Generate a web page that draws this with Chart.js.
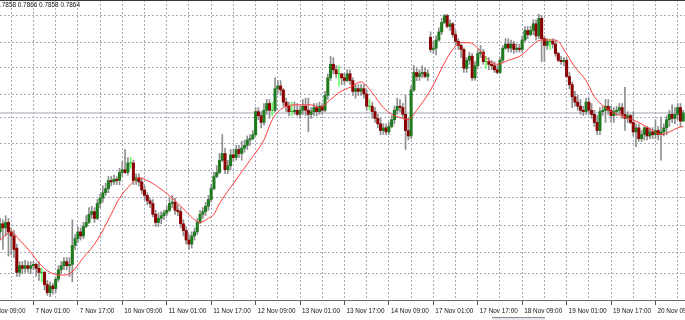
<!DOCTYPE html>
<html>
<head>
<meta charset="utf-8">
<script src="https://cdn.jsdelivr.net/npm/chart.js@4.4.1/dist/chart.umd.min.js"></script>
<style>
  html, body { margin: 0; padding: 0; background: #fff; }
  canvas { display: block; }
</style>
</head>
<body>
<canvas id="chart" width="685" height="320"></canvas>
<script>
// H1 candles, bar 0 = 6 Nov 09:00 (trading hours only)
const firstBar = 4;

const openPrices = [
  0.7776,0.7782,0.7779,0.7783,0.7776,0.7773,0.7764,0.7746,0.7751,0.7749,
  0.7751,0.7749,0.7751,0.7752,0.7749,0.7746,0.7746,0.7737,0.7731,0.7736,
  0.7734,0.7741,0.7748,0.7751,0.7754,0.7751,0.7752,0.7766,0.7771,0.7776,
  0.7773,0.7780,0.7783,0.7789,0.7791,0.7786,0.7797,0.7801,0.7805,0.7808,
  0.7814,0.7813,0.7815,0.7814,0.7820,0.7822,0.7820,0.7827,0.7827,0.7814,
  0.7816,0.7813,0.7807,0.7803,0.7799,0.7797,0.7789,0.7783,0.7786,0.7788,
  0.7790,0.7792,0.7797,0.7798,0.7792,0.7791,0.7782,0.7777,0.7770,0.7767,
  0.7773,0.7776,0.7783,0.7789,0.7791,0.7795,0.7800,0.7808,0.7817,0.7820,
  0.7829,0.7834,0.7822,0.7825,0.7833,0.7831,0.7837,0.7834,0.7838,0.7840,
  0.7844,0.7845,0.7848,0.7865,0.7862,0.7857,0.7866,0.7871,0.7866,0.7866,
  0.7882,0.7884,0.7881,0.7872,0.7869,0.7865,0.7865,0.7866,0.7863,0.7866,
  0.7869,0.7866,0.7863,0.7865,0.7868,0.7865,0.7869,0.7866,0.7877,0.7890,
  0.7900,0.7896,0.7893,0.7893,0.7890,0.7888,0.7893,0.7888,0.7880,0.7882,
  0.7880,0.7882,0.7878,0.7869,0.7869,0.7865,0.7860,0.7856,0.7851,0.7853,
  0.7850,0.7854,0.7859,0.7866,0.7869,0.7868,0.7863,0.7851,0.7847,0.7881,
  0.7894,0.7891,0.7893,0.7894,0.7891,0.7920,0.7911,0.7912,0.7918,0.7924,
  0.7931,0.7936,0.7928,0.7930,0.7922,0.7917,0.7914,0.7911,0.7897,0.7903,
  0.7906,0.7890,0.7899,0.7908,0.7909,0.7902,0.7902,0.7900,0.7899,0.7896,
  0.7894,0.7903,0.7912,0.7915,0.7912,0.7915,0.7911,0.7912,0.7911,0.7918,
  0.7925,0.7922,0.7925,0.7930,0.7921,0.7934,0.7919,0.7914,0.7917,0.7917,
  0.7915,0.7908,0.7903,0.7902,0.7903,0.7891,0.7885,0.7876,0.7872,0.7869,
  0.7866,0.7865,0.7872,0.7866,0.7863,0.7857,0.7851,0.7865,0.7866,0.7869,
  0.7866,0.7862,0.7865,0.7866,0.7868,0.7863,0.7860,0.7862,0.7857,0.7850,
  0.7853,0.7845,0.7848,0.7853,0.7847,0.7850,0.7848,0.7851,0.7848,0.7850,
  0.7853,0.7859,0.7863,0.7860,0.7863,0.7868,0.7858
];
const highPrices = [
  0.7786,0.7785,0.7788,0.7786,0.7779,0.7777,0.7767,0.7754,0.7754,0.7755,
  0.7754,0.7754,0.7754,0.7753,0.7754,0.7749,0.7747,0.7740,0.7739,0.7738,
  0.7743,0.7751,0.7754,0.7757,0.7757,0.7757,0.7785,0.7774,0.7780,0.7779,
  0.7783,0.7788,0.7794,0.7795,0.7794,0.7800,0.7804,0.7810,0.7812,0.7817,
  0.7817,0.7818,0.7817,0.7823,0.7828,0.7837,0.7831,0.7831,0.7829,0.7819,
  0.7819,0.7816,0.7810,0.7805,0.7801,0.7800,0.7792,0.7790,0.7791,0.7792,
  0.7795,0.7801,0.7803,0.7801,0.7796,0.7794,0.7785,0.7780,0.7774,0.7776,
  0.7779,0.7786,0.7792,0.7794,0.7798,0.7803,0.7811,0.7820,0.7825,0.7834,
  0.7848,0.7838,0.7829,0.7837,0.7837,0.7840,0.7840,0.7843,0.7844,0.7847,
  0.7848,0.7851,0.7868,0.7868,0.7865,0.7871,0.7874,0.7874,0.7872,0.7890,
  0.7888,0.7888,0.7882,0.7875,0.7872,0.7872,0.7872,0.7871,0.7869,0.7874,
  0.7875,0.7875,0.7868,0.7871,0.7871,0.7872,0.7871,0.7880,0.7893,0.7906,
  0.7905,0.7899,0.7899,0.7893,0.7893,0.7896,0.7896,0.7890,0.7885,0.7885,
  0.7885,0.7885,0.7881,0.7874,0.7872,0.7868,0.7863,0.7860,0.7856,0.7856,
  0.7857,0.7862,0.7869,0.7875,0.7874,0.7871,0.7877,0.7860,0.7884,0.7899,
  0.7897,0.7896,0.7899,0.7897,0.7896,0.7924,0.7917,0.7921,0.7927,0.7934,
  0.7937,0.7937,0.7933,0.7931,0.7925,0.7919,0.7915,0.7912,0.7905,0.7909,
  0.7908,0.7902,0.7911,0.7914,0.7911,0.7906,0.7905,0.7903,0.7902,0.7899,
  0.7905,0.7914,0.7919,0.7919,0.7918,0.7917,0.7915,0.7915,0.7921,0.7928,
  0.7928,0.7928,0.7933,0.7933,0.7937,0.7936,0.7921,0.7919,0.7919,0.7919,
  0.7918,0.7909,0.7906,0.7905,0.7905,0.7894,0.7887,0.7880,0.7877,0.7874,
  0.7869,0.7875,0.7875,0.7871,0.7866,0.7862,0.7868,0.7869,0.7874,0.7874,
  0.7869,0.7868,0.7869,0.7871,0.7871,0.7883,0.7865,0.7863,0.7865,0.7856,
  0.7856,0.7851,0.7854,0.7854,0.7853,0.7853,0.7859,0.7854,0.7861,0.7856,
  0.7862,0.7866,0.7870,0.7868,0.7871,0.7871,0.7866
];
const lowPrices = [
  0.7770,0.7763,0.7773,0.7758,0.7759,0.7757,0.7743,0.7743,0.7745,0.7746,
  0.7746,0.7745,0.7748,0.7743,0.7740,0.7739,0.7733,0.7729,0.7728,0.7730,
  0.7731,0.7739,0.7745,0.7748,0.7748,0.7743,0.7739,0.7763,0.7768,0.7770,
  0.7771,0.7779,0.7782,0.7786,0.7783,0.7785,0.7794,0.7798,0.7803,0.7805,
  0.7810,0.7811,0.7811,0.7811,0.7817,0.7819,0.7818,0.7823,0.7811,0.7811,
  0.7810,0.7804,0.7800,0.7796,0.7794,0.7787,0.7780,0.7780,0.7782,0.7785,
  0.7788,0.7791,0.7794,0.7789,0.7788,0.7779,0.7773,0.7767,0.7763,0.7764,
  0.7770,0.7774,0.7782,0.7786,0.7788,0.7792,0.7798,0.7807,0.7816,0.7819,
  0.7828,0.7819,0.7819,0.7822,0.7828,0.7829,0.7831,0.7829,0.7835,0.7837,
  0.7840,0.7844,0.7847,0.7859,0.7853,0.7855,0.7863,0.7860,0.7862,0.7865,
  0.7878,0.7877,0.7869,0.7865,0.7862,0.7862,0.7863,0.7862,0.7860,0.7863,
  0.7862,0.7850,0.7860,0.7862,0.7862,0.7863,0.7863,0.7865,0.7874,0.7888,
  0.7893,0.7890,0.7884,0.7885,0.7885,0.7887,0.7885,0.7877,0.7875,0.7877,
  0.7877,0.7875,0.7866,0.7866,0.7860,0.7857,0.7853,0.7848,0.7848,0.7848,
  0.7848,0.7853,0.7856,0.7863,0.7865,0.7860,0.7837,0.7844,0.7845,0.7880,
  0.7888,0.7888,0.7890,0.7890,0.7888,0.7909,0.7908,0.7907,0.7917,0.7922,
  0.7930,0.7927,0.7925,0.7920,0.7914,0.7911,0.7905,0.7894,0.7894,0.7900,
  0.7888,0.7888,0.7897,0.7905,0.7900,0.7897,0.7896,0.7896,0.7894,0.7893,
  0.7893,0.7902,0.7911,0.7909,0.7909,0.7908,0.7909,0.7909,0.7909,0.7917,
  0.7919,0.7921,0.7922,0.7918,0.7919,0.7902,0.7902,0.7911,0.7911,0.7912,
  0.7906,0.7902,0.7900,0.7899,0.7890,0.7882,0.7868,0.7869,0.7866,0.7863,
  0.7862,0.7863,0.7863,0.7860,0.7854,0.7848,0.7848,0.7862,0.7857,0.7863,
  0.7857,0.7857,0.7862,0.7863,0.7860,0.7851,0.7857,0.7856,0.7847,0.7839,
  0.7843,0.7843,0.7844,0.7844,0.7845,0.7845,0.7845,0.7844,0.7829,0.7847,
  0.7848,0.7854,0.7857,0.7856,0.7859,0.7854,0.7858
];
const closePrices = [
  0.7782,0.7779,0.7783,0.7776,0.7773,0.7763,0.7746,0.7751,0.7749,0.7751,
  0.7749,0.7751,0.7752,0.7749,0.7746,0.7746,0.7737,0.7731,0.7736,0.7734,
  0.7741,0.7748,0.7751,0.7754,0.7751,0.7752,0.7766,0.7771,0.7776,0.7773,
  0.7780,0.7783,0.7789,0.7791,0.7786,0.7797,0.7801,0.7805,0.7808,0.7814,
  0.7813,0.7815,0.7814,0.7820,0.7822,0.7820,0.7827,0.7827,0.7814,0.7816,
  0.7813,0.7807,0.7803,0.7799,0.7797,0.7789,0.7783,0.7786,0.7788,0.7790,
  0.7792,0.7797,0.7798,0.7792,0.7791,0.7782,0.7777,0.7770,0.7767,0.7773,
  0.7776,0.7783,0.7789,0.7791,0.7795,0.7800,0.7808,0.7817,0.7820,0.7829,
  0.7834,0.7822,0.7825,0.7833,0.7831,0.7837,0.7834,0.7838,0.7840,0.7844,
  0.7845,0.7848,0.7865,0.7862,0.7857,0.7866,0.7871,0.7866,0.7866,0.7882,
  0.7884,0.7881,0.7872,0.7869,0.7865,0.7865,0.7866,0.7863,0.7866,0.7869,
  0.7866,0.7863,0.7865,0.7868,0.7865,0.7869,0.7866,0.7877,0.7890,0.7900,
  0.7896,0.7893,0.7893,0.7890,0.7888,0.7893,0.7888,0.7880,0.7882,0.7880,
  0.7882,0.7878,0.7869,0.7869,0.7865,0.7860,0.7856,0.7851,0.7853,0.7850,
  0.7854,0.7859,0.7866,0.7869,0.7868,0.7863,0.7851,0.7847,0.7881,0.7894,
  0.7891,0.7893,0.7894,0.7891,0.7893,0.7911,0.7912,0.7918,0.7924,0.7931,
  0.7936,0.7928,0.7930,0.7922,0.7917,0.7914,0.7911,0.7897,0.7903,0.7906,
  0.7890,0.7899,0.7908,0.7909,0.7902,0.7902,0.7900,0.7899,0.7896,0.7894,
  0.7903,0.7912,0.7915,0.7912,0.7915,0.7911,0.7912,0.7911,0.7918,0.7925,
  0.7922,0.7925,0.7930,0.7921,0.7934,0.7919,0.7914,0.7917,0.7917,0.7915,
  0.7908,0.7903,0.7902,0.7903,0.7891,0.7885,0.7876,0.7872,0.7869,0.7866,
  0.7865,0.7872,0.7866,0.7863,0.7857,0.7851,0.7865,0.7866,0.7869,0.7866,
  0.7862,0.7865,0.7866,0.7868,0.7863,0.7860,0.7862,0.7857,0.7850,0.7853,
  0.7845,0.7848,0.7853,0.7847,0.7850,0.7848,0.7851,0.7848,0.7850,0.7853,
  0.7859,0.7863,0.7860,0.7863,0.7868,0.7858,0.7864
];

const maBars = [4,8,11,15,18,22,26,29,34,39,44,47,51,54,57,61,66,71,74,76,
  79,81,83,87,94,99,102,106,111,116,119,123,126,130,134,135,138,142,145,149,
  151,154,159,164,167,170,173,176,180,183,187,192,195,199,203,205,207,211,215,218,
  222,225,229,234,239,242,245,248,250];
const maValues = [0.7770,0.7776,0.7770,0.7761,0.7753,0.7746,0.7744,0.7745,0.7757,0.7770,
  0.7789,0.7801,0.7811,0.7816,0.7814,0.7809,0.7801,0.7791,0.7785,0.7783,
  0.7786,0.7789,0.7797,0.7809,0.7829,0.7844,0.7859,0.7868,0.7870,0.7870,
  0.7868,0.7874,0.7879,0.7883,0.7887,0.7886,0.7879,0.7868,0.7863,0.7860,
  0.7859,0.7866,0.7881,0.7901,0.7911,0.7916,0.7916,0.7912,0.7903,0.7900,
  0.7903,0.7907,0.7913,0.7918,0.7918,0.7917,0.7911,0.7898,0.7888,0.7876,
  0.7868,0.7864,0.7861,0.7857,0.7851,0.7848,0.7850,0.7853,0.7854];

const bidPrice = 0.7864;
const gridLevels = [0.79365,0.79165,0.78973,0.78773,0.78610,0.78411,0.78211,0.78011,0.77811,0.77611,0.77449];
const timeLabels = ['6 Nov 09:00','7 Nov 01:00','7 Nov 17:00','10 Nov 09:00','11 Nov 01:00','11 Nov 17:00',
  '12 Nov 09:00','13 Nov 01:00','13 Nov 17:00','14 Nov 09:00','17 Nov 01:00','17 Nov 17:00',
  '18 Nov 09:00','19 Nov 01:00','19 Nov 17:00','20 Nov 09:00'];
const gridStep = 8;
const labelStep = 16;

// view window
const xMin = 3.96, xMax = 250.63;
const yMin = 0.77256, yMax = 0.79476;

const GRID = '#a3abba';
const BULL = '#1f7a1f';
const BEAR = '#8b0000';
const WICK = '#8f8f8f';
const DOJI = '#66ff66';
const FONT = { family: '"Liberation Sans", Arial, sans-serif', size: 6.4 };

const bars = closePrices.map((_, i) => firstBar + i);

const frame = {
    id: 'frame',
    beforeDraw(chart) {
        const c = chart.ctx;
        c.save();
        c.fillStyle = '#fff';
        c.fillRect(0, 0, chart.width, chart.height);
        c.restore();
    },
    afterDraw(chart) {
        const c = chart.ctx;
        const last = closePrices.length - 1;
        const txt = [openPrices[last], highPrices[last], lowPrices[last], closePrices[last]]
            .map(v => v.toFixed(4)).join(' ');
        c.save();
        c.fillStyle = '#3a3a3a';
        c.fillRect(0, 0, chart.width, 1);
        c.font = `${FONT.size}px ${FONT.family}`;
        c.fillStyle = '#111';
        c.textBaseline = 'middle';
        // symbol name is cut off at the left edge in the original
        c.fillText(txt, -c.measureText('0').width, 5);
        // little scroll tab under the time axis
        c.fillStyle = '#e6e6ee';
        c.fillRect(492, 318, 53, 2);
        c.fillStyle = '#8a8a8a';
        c.fillRect(492, 317, 53, 1);
        c.restore();
    }
};

new Chart(document.getElementById('chart'), {
    type: 'bar',
    data: {
        datasets: [
            {
                type: 'line',
                data: maBars.map((b, k) => ({ x: b, y: maValues[k] })),
                borderColor: '#ff3a3a',
                borderWidth: 1,
                pointRadius: 0,
                cubicInterpolationMode: 'monotone',
                order: 0
            },
            {
                data: bars.map((b, k) => ({ x: b, y: [openPrices[k], closePrices[k]] })),
                backgroundColor: bars.map((_, k) => closePrices[k] >= openPrices[k] ? BULL : BEAR),
                borderWidth: 0,
                barThickness: 2.4,
                grouped: false,
                order: 1
            },
            {
                data: bars.map((b, k) => ({ x: b, y: [lowPrices[k], highPrices[k]] })),
                backgroundColor: bars.map((_, k) => closePrices[k] === openPrices[k] ? DOJI : WICK),
                borderWidth: 0,
                barThickness: 1,
                grouped: false,
                order: 2
            },
            {
                type: 'line',
                data: [{ x: xMin, y: bidPrice }, { x: xMax, y: bidPrice }],
                borderColor: '#a2aab7',
                borderWidth: 1,
                pointRadius: 0,
                order: 3
            }
        ]
    },
    options: {
        responsive: false,
        animation: false,
        events: [],
        layout: { padding: 0 },
        plugins: { legend: { display: false }, tooltip: { enabled: false } },
        scales: {
            x: {
                type: 'linear',
                min: xMin,
                max: xMax,
                offset: false,
                afterBuildTicks: (s) => {
                    const t = [];
                    for (let b = 0; b <= xMax; b += gridStep) t.push({ value: b });
                    s.ticks = t;
                },
                afterFit: (s) => {
                    s.height = 20;
                    s.paddingLeft = 0;
                    s.paddingRight = 0;
                },
                ticks: {
                    autoSkip: false,
                    maxRotation: 0,
                    minRotation: 0,
                    align: 'start',
                    labelOffset: 2,
                    padding: 2,
                    color: '#111',
                    font: FONT,
                    callback: (v) => v % labelStep === 0 ? timeLabels[v / labelStep] : ''
                },
                grid: {
                    offset: false,
                    color: GRID,
                    lineWidth: 1,
                    tickLength: 5,
                    tickColor: (ctx) => (ctx.tick && ctx.tick.value % labelStep === 0) ? '#555' : 'rgba(0,0,0,0)'
                },
                border: { display: true, color: '#6a6a6a', width: 1, dash: [2, 2] }
            },
            y: {
                min: yMin,
                max: yMax,
                afterBuildTicks: (s) => { s.ticks = gridLevels.map(v => ({ value: v })); },
                afterFit: (s) => {
                    s.width = 0;
                    s.paddingTop = 0;
                    s.paddingBottom = 0;
                },
                ticks: { display: false },
                grid: { color: GRID, lineWidth: 1, drawTicks: false },
                border: { display: false, dash: [2, 2] }
            }
        }
    },
    plugins: [frame]
});
</script>
</body>
</html>
